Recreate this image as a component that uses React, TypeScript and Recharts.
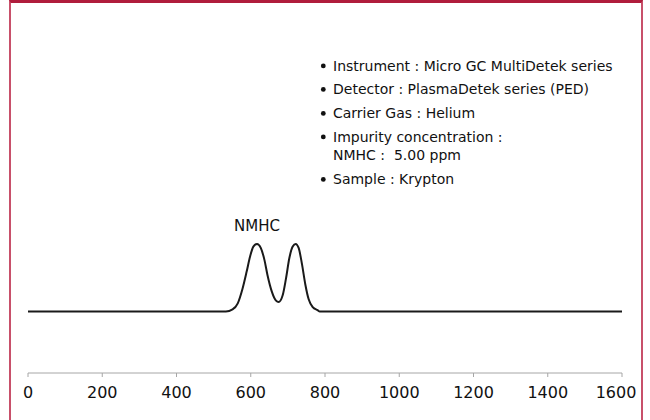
import React from 'react';
import { LineChart, Line, XAxis, YAxis, ReferenceDot } from 'recharts';

// Retention time (s) and detector signal (arbitrary units)
const retentionTimes = [0, 500, 533, 551, 565, 578, 589, 598, 607, 617, 627, 637, 645, 657, 668, 675, 686, 695, 704, 713, 721, 729, 738, 747, 756, 767, 780, 786, 850, 1600];
const signalValues = [0, 0, 0, 3, 12, 34, 59, 81, 96, 100, 94, 76, 54, 29, 16, 14, 24, 49, 79, 96, 100, 94, 70, 40, 18, 6.5, 2, 0, 0, 0];

const xTicks = [0, 200, 400, 600, 800, 1000, 1200, 1400, 1600];

const peakLabel = 'NMHC';
const peakLabelTime = 617;
const peakLabelSignal = 100;

const infoLines = [
  { text: 'Instrument : Micro GC MultiDetek series', bullet: true },
  { text: 'Detector : PlasmaDetek series (PED)', bullet: true },
  { text: 'Carrier Gas : Helium', bullet: true },
  { text: 'Impurity concentration :', bullet: true },
  { text: 'NMHC :  5.00 ppm', bullet: false },
  { text: 'Sample : Krypton', bullet: true },
];
const infoBaselines = [70.5, 94, 118, 141.5, 160, 184];

const data = retentionTimes.map((t, i) => ({ t, s: signalValues[i] }));

const FONT = '"DejaVu Sans", "Liberation Sans", sans-serif';

const Tick = (props: any) => {
  const { x, y, payload, index } = props;
  const last = index === xTicks.length - 1;
  return (
    <text x={x} y={y} dy="0.71em" dx={last ? -6 : 0} textAnchor="middle" fill="#111" fontSize={16} fontFamily={FONT}>
      {payload.value}
    </text>
  );
};

export default function App() {
  return (
    <div style={{ position: 'absolute', left: 0, top: 0, width: 650, height: 420, overflow: 'hidden', background: '#fff' }}>
      <div
        style={{
          position: 'absolute',
          left: 9,
          top: 0,
          width: 634,
          height: 420,
          boxSizing: 'border-box',
          borderTop: '3px solid #b01c3c',
          borderLeft: '2px solid #c8506a',
          borderRight: '2px solid #c8506a',
        }}
      />
      <div style={{ position: 'absolute', left: 0, top: 0 }}>
        <LineChart width={650} height={420} data={data} margin={{ top: 35, right: 28, bottom: 0, left: 28 }}>
          <XAxis
            dataKey="t"
            type="number"
            domain={[0, 1600]}
            ticks={xTicks}
            stroke="#a6a6a6"
            tickLine={{ stroke: '#a6a6a6' }}
            tickSize={4}
            tickMargin={10}
            height={47}
            tick={<Tick />}
          />
          <YAxis hide type="number" domain={[-91, 409]} />
          <ReferenceDot
            x={peakLabelTime}
            y={peakLabelSignal}
            r={0}
            fill="none"
            stroke="none"
            label={{ value: peakLabel, position: 'top', offset: 13, fill: '#111', fontSize: 15, fontFamily: FONT }}
          />
          <Line
            type="monotone"
            dataKey="s"
            stroke="#1a1a1a"
            strokeWidth={2}
            dot={false}
            isAnimationActive={false}
          />
        </LineChart>
      </div>
      <svg width={650} height={420} style={{ position: 'absolute', left: 0, top: 0, pointerEvents: 'none' }}>
        {infoLines.map((line, i) => (
          <g key={i}>
            {line.bullet && <circle cx={323.3} cy={infoBaselines[i] - 4.6} r={2.4} fill="#111" />}
            <text x={333} y={infoBaselines[i]} fontSize={14} fontFamily={FONT} fill="#111" style={{ whiteSpace: 'pre' }}>
              {line.text}
            </text>
          </g>
        ))}
      </svg>
    </div>
  );
}
